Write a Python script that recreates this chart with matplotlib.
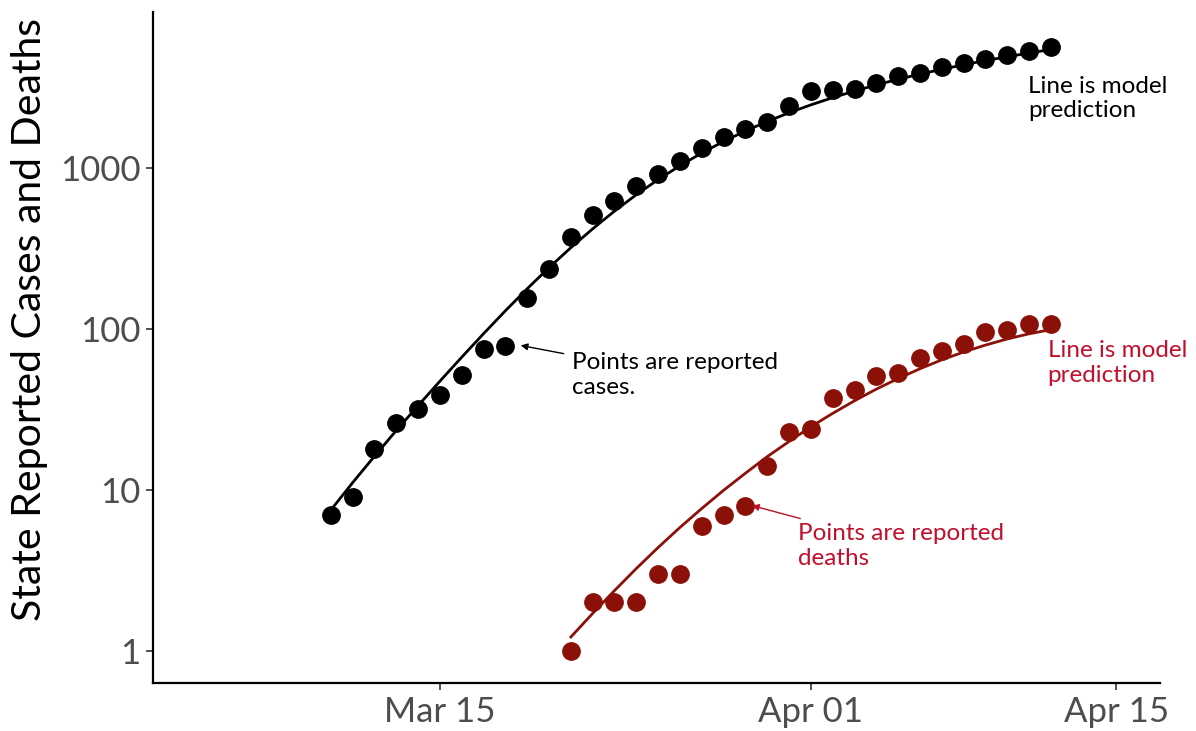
import matplotlib
matplotlib.use("Agg")
import matplotlib.pyplot as plt
import matplotlib.dates as mdates
import numpy as np
import datetime as dt

plt.rcParams['font.family'] = ['Lato', 'DejaVu Sans']

case_dates = [dt.date(2020, 3, 10) + dt.timedelta(days=i) for i in range(34)]
cases = [7, 9, 18, 26, 32, 39, 52, 75, 78, 156, 236, 373, 510, 624, 773, 918,
         1105, 1331, 1559, 1747, 1932, 2427, 3008, 3050, 3093, 3373, 3719, 3890,
         4238, 4488, 4755, 5035, 5332, 5630]
cases_model = [7.5, 11.1, 16.2, 23.4, 33.4, 47.4, 66.8, 93.5, 129.7, 177.8, 240.4,
               319.9, 418.8, 539.5, 682.3, 847.2, 1033, 1239, 1462, 1698, 1945,
               2203, 2466, 2735, 3006, 3281, 3556, 3828, 4102, 4375, 4645, 4909,
               5176, 5445]

death_dates = [dt.date(2020, 3, 21) + dt.timedelta(days=i) for i in range(23)]
deaths = [1, 2, 2, 2, 3, 3, 6, 7, 8, 14, 23, 24, 37, 42, 51, 53, 66, 73, 81, 96,
          99, 107, 107]
deaths_model = [1.22, 1.71, 2.37, 3.25, 4.39, 5.85, 7.67, 9.95, 12.7, 16.1, 20.0,
                24.7, 29.9, 35.8, 42.3, 49.2, 56.6, 64.3, 71.9, 79.4, 86.7, 93.3,
                99.1]

ytick_vals = [1, 10, 100, 1000]
ytick_labels = ['1', '10', '100', '1000']
xtick_dates = [dt.date(2020, 3, 15), dt.date(2020, 4, 1), dt.date(2020, 4, 15)]
xtick_labels = ['Mar 15', 'Apr 01', 'Apr 15']

DARKRED = '#8B1108'
TEXTRED = '#C0102B'
ANN_SIZE = 17.5

fig = plt.figure(figsize=(11.96, 7.31), dpi=100)
ax = fig.add_axes([153/1196, 1-683/731, (1160-153)/1196, (683-12)/731])

ax.plot(case_dates, cases_model, color='black', lw=2.0, zorder=2)
ax.plot(case_dates, cases, 'o', color='black', ms=12.5, zorder=3)
ax.plot(death_dates, deaths_model, color=DARKRED, lw=2.0, zorder=2)
ax.plot(death_dates, deaths, 'o', color=DARKRED, ms=12.5, zorder=3)

ax.set_yscale('log')
ax.set_ylim(0.632, 9310)
ax.set_xlim(mdates.date2num(dt.date(2020, 3, 15)) - 13.15,
            mdates.date2num(dt.date(2020, 3, 15)) + 33.0)

ax.set_yticks(ytick_vals)
ax.set_yticklabels(ytick_labels)
ax.yaxis.set_minor_locator(matplotlib.ticker.NullLocator())
ax.set_xticks([mdates.date2num(d) for d in xtick_dates])
ax.set_xticklabels(xtick_labels)

for s in ['top', 'right']:
    ax.spines[s].set_visible(False)
for s in ['left', 'bottom']:
    ax.spines[s].set_linewidth(1.6)
    ax.spines[s].set_color('black')

ax.tick_params(axis='both', which='major', length=5, width=1.2, color='#333333',
               labelcolor='#4D4D4D', labelsize=25, pad=4)
ax.set_ylabel('State Reported Cases and Deaths', fontsize=29.5, color='black')
ax.yaxis.set_label_coords(-0.104, 0.541)

# Annotations
apr13 = mdates.date2num(dt.date(2020, 4, 13))
ax.text(apr13 - 2.05, 3750, 'Line is model\nprediction', fontsize=ANN_SIZE,
        color='black', va='top', ha='left', linespacing=1.22)
ax.text(apr13 - 1.15, 85, 'Line is model\nprediction', fontsize=ANN_SIZE,
        color=TEXTRED, va='top', ha='left', linespacing=1.22)

ax.annotate('Points are reported\ncases.',
            xy=(mdates.date2num(dt.date(2020, 3, 18)) + 0.7, 79),
            xytext=(mdates.date2num(dt.date(2020, 3, 21)) + 0.05, 72),
            fontsize=ANN_SIZE, color='black', va='top', ha='left',
            linespacing=1.22,
            arrowprops=dict(arrowstyle='-|>', color='black', lw=1.0,
                            mutation_scale=10, shrinkA=4, shrinkB=0))
ax.annotate('Points are reported\ndeaths',
            xy=(mdates.date2num(dt.date(2020, 3, 29)) + 0.3, 8.0),
            xytext=(mdates.date2num(dt.date(2020, 3, 31)) + 0.4, 6.25),
            fontsize=ANN_SIZE, color=TEXTRED, va='top', ha='left',
            linespacing=1.22,
            arrowprops=dict(arrowstyle='-|>', color=TEXTRED, lw=1.0,
                            mutation_scale=10, shrinkA=4, shrinkB=0))

fig.savefig('out.png', dpi=100, facecolor='white')
